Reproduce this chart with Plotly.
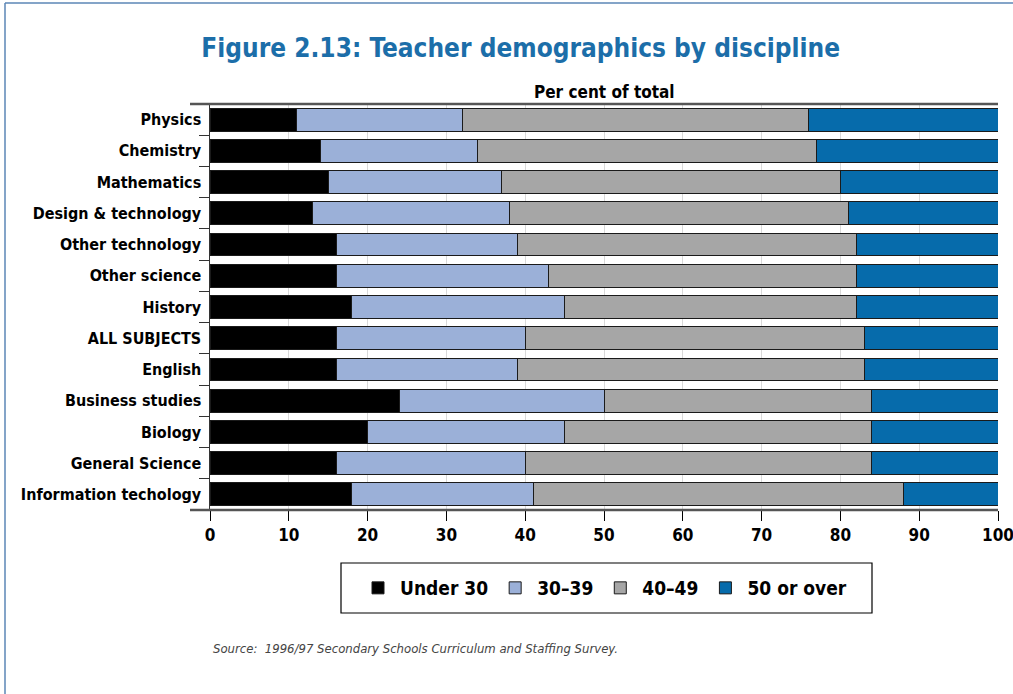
import plotly.graph_objects as go

# subjects, top to bottom
subjects = ["Physics", "Chemistry", "Mathematics", "Design & technology",
            "Other technology", "Other science", "History", "ALL SUBJECTS",
            "English", "Business studies", "Biology", "General Science",
            "Information techology"]

# per cent of teachers in each age band
under_30 = [11, 14, 15, 13, 16, 16, 18, 16, 16, 24, 20, 16, 18]
age_30_39 = [21, 20, 22, 25, 23, 27, 27, 24, 23, 26, 25, 24, 23]
age_40_49 = [44, 43, 43, 43, 43, 39, 37, 43, 44, 34, 39, 44, 47]
over_50 = [24, 23, 20, 19, 18, 18, 18, 17, 17, 16, 16, 16, 12]

bands = ["Under 30", "30\u201339", "40\u201349", "50 or over"]
colours = ["#000000", "#9bb0d8", "#a6a6a6", "#066bab"]

FONT = "DejaVu Sans Condensed, sans-serif"

# plot area in pixels: x 210..998, y 104..510
W, H = 1013, 694
L, R, T, B = 210, 15, 104, 184
pw, ph = W - L - R, H - T - B


def px_x(x):
    return (x - L) / pw


def px_y(y):
    return 1 - (y - T) / ph


fig = go.Figure()
for name, vals, col in zip(bands, [under_30, age_30_39, age_40_49, over_50], colours):
    fig.add_trace(go.Bar(
        y=subjects, x=vals, name="<b>" + name + "</b>", orientation="h",
        marker=dict(color=col, line=dict(color="#1a1a1a", width=1)),
    ))

fig.update_layout(
    width=W, height=H,
    margin=dict(l=L, r=R, t=T, b=B, autoexpand=False),
    barmode="stack", bargap=0.27,
    plot_bgcolor="white", paper_bgcolor="white",
    font=dict(family=FONT, color="#000000"),
    title=dict(text="<b>Figure 2.13: Teacher demographics by discipline</b>",
               x=0.514, xref="container", xanchor="center",
               y=1 - 48 / H, yref="container", yanchor="middle",
               font=dict(size=26, color="#1c6ea9", family=FONT)),
    showlegend=True,
    legend=dict(orientation="h", x=px_x(604), xanchor="center",
                y=px_y(588), yanchor="middle",
                borderwidth=0, bgcolor="rgba(0,0,0,0)",
                font=dict(size=19, family=FONT), traceorder="normal",
                itemwidth=34),
)

fig.update_xaxes(
    range=[0, 100], dtick=10, tick0=0,
    showgrid=True, gridcolor="#d9d9d9", gridwidth=1,
    ticks="outside", ticklen=10, tickcolor="#000000", tickwidth=1,
    tickfont=dict(size=17, family=FONT),
    tickprefix="<b>", ticksuffix="</b>", ticklabeloverflow="allow",
    showline=False, zeroline=False, automargin=False,
)
fig.update_yaxes(
    autorange="reversed", categoryorder="array", categoryarray=subjects,
    ticks="outside", ticklen=10, tickcolor="#333333", tickwidth=1,
    tickson="boundaries",
    tickfont=dict(size=16, family=FONT),
    tickprefix="<b>", ticksuffix="</b> ",
    showline=True, linecolor="#333333", linewidth=1,
    showgrid=False, zeroline=False, automargin=False,
)

# top and bottom frame lines run a little past the left axis
for yy in [0, 1]:
    fig.add_shape(type="line", xref="paper", yref="paper",
                  x0=px_x(190), x1=1, y0=yy, y1=yy,
                  line=dict(color="#555555", width=2.5))

# legend box
fig.add_shape(type="rect", xref="paper", yref="paper",
              x0=px_x(341), x1=px_x(872), y0=px_y(563), y1=px_y(613),
              line=dict(color="#000000", width=1.2), layer="below")

# page border
fig.add_shape(type="line", xref="paper", yref="paper",
              x0=px_x(5), x1=px_x(1013), y0=px_y(3), y1=px_y(3),
              line=dict(color="#5b86b6", width=1.5))
fig.add_shape(type="line", xref="paper", yref="paper",
              x0=px_x(5), x1=px_x(5), y0=px_y(3), y1=px_y(694),
              line=dict(color="#5b86b6", width=1.5))

fig.add_annotation(text="<b>Per cent of total</b>", xref="paper", yref="paper",
                   x=0.5, y=px_y(92), yanchor="middle", showarrow=False,
                   font=dict(size=17, family=FONT))
fig.add_annotation(text="<i>Source:  1996/97 Secondary Schools Curriculum and Staffing Survey.</i>",
                   xref="paper", yref="paper", x=px_x(211), y=px_y(648),
                   xanchor="left", yanchor="middle", showarrow=False,
                   font=dict(size=13, family=FONT, color="#444444"))

# page body has a default 8px margin; drop it so the figure fills the window
fig.write_html("out.html", config={"displayModeBar": False},
               post_script="document.body.style.margin='0';")
